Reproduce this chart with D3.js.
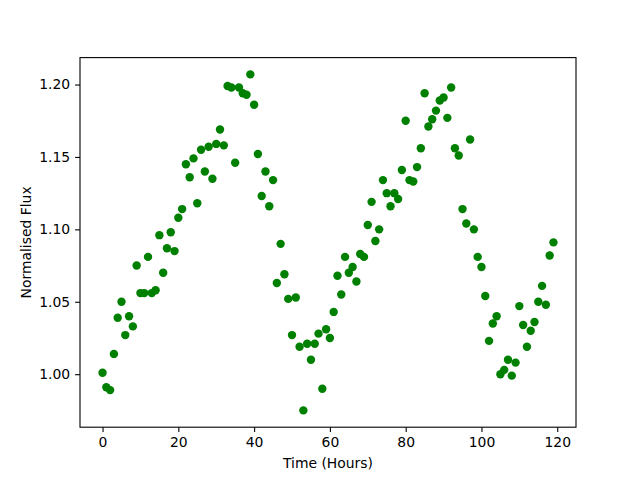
<!DOCTYPE html>
<html><head><meta charset="utf-8">
<script src="https://cdn.jsdelivr.net/npm/d3@7"></script>
<style>body{margin:0;background:#fff}svg text{font-family:"DejaVu Sans",sans-serif}</style>
</head><body>
<svg id="c" width="640" height="480"></svg>
<script>
const hours = d3.range(0, 120);
const flux = [
1.001,0.991,0.989,1.014,1.039,1.050,1.027,1.040,1.033,1.075,
1.056,1.056,1.081,1.056,1.058,1.096,1.070,1.087,1.098,1.085,
1.108,1.114,1.145,1.136,1.149,1.118,1.155,1.140,1.157,1.135,
1.159,1.169,1.158,1.199,1.198,1.146,1.198,1.194,1.193,1.207,
1.186,1.152,1.123,1.140,1.116,1.134,1.063,1.090,1.069,1.052,
1.027,1.053,1.019,0.975,1.021,1.010,1.021,1.028,0.990,1.031,
1.025,1.043,1.068,1.055,1.081,1.070,1.074,1.064,1.083,1.081,
1.103,1.119,1.092,1.100,1.134,1.125,1.116,1.125,1.121,1.141,
1.175,1.134,1.133,1.143,1.156,1.194,1.171,1.176,1.182,1.189,
1.191,1.177,1.198,1.156,1.151,1.114,1.104,1.162,1.100,1.081,
1.074,1.054,1.023,1.035,1.040,1.000,1.003,1.010,0.999,1.008,
1.047,1.034,1.019,1.030,1.036,1.050,1.061,1.048,1.082,1.091];
const xTicks = [0,20,40,60,80,100,120];
const yTicks = [1.00,1.05,1.10,1.15,1.20];
const xLabel = "Time (Hours)";
const yLabel = "Normalised Flux";

const L=80,R=576,T=57.6,B=427.2;
const svg=d3.select("#c");
const pad=(a,b)=>[a-(b-a)*0.05,b+(b-a)*0.05];
const x=d3.scaleLinear().domain(pad(d3.min(hours),d3.max(hours))).range([L,R]);
const y=d3.scaleLinear().domain(pad(d3.min(flux),d3.max(flux))).range([B,T]);

const g=svg.append("g");
g.selectAll("circle").data(hours).join("circle")
 .attr("cx",(d,i)=>x(hours[i])).attr("cy",(d,i)=>y(flux[i])).attr("r",4.2).attr("fill","#008000");

const xa=svg.append("g").attr("transform",`translate(0,${B})`)
 .call(d3.axisBottom(x).tickValues(xTicks).tickFormat(d3.format("d")).tickSize(4.9).tickPadding(4.9));
const ya=svg.append("g").attr("transform",`translate(${L},0)`)
 .call(d3.axisLeft(y).tickValues(yTicks).tickFormat(d3.format(".2f")).tickSize(4.9).tickPadding(4.9));
[xa,ya].forEach(a=>{a.select(".domain").remove();a.selectAll("line").attr("stroke","#000").attr("stroke-width",1.1);
 a.selectAll("text").attr("font-size","13.9px").attr("fill","#000").attr("font-family","DejaVu Sans");});
svg.append("rect").attr("x",L).attr("y",T).attr("width",R-L).attr("height",B-T)
 .attr("fill","none").attr("stroke","#000").attr("stroke-width",1.1);
svg.append("text").attr("x",(L+R)/2).attr("y",468).attr("text-anchor","middle")
 .attr("font-size","13.9px").text(xLabel);
svg.append("text").attr("transform",`translate(31,${(T+B)/2}) rotate(-90)`).attr("text-anchor","middle")
 .attr("font-size","13.9px").text(yLabel);
</script></body></html>
